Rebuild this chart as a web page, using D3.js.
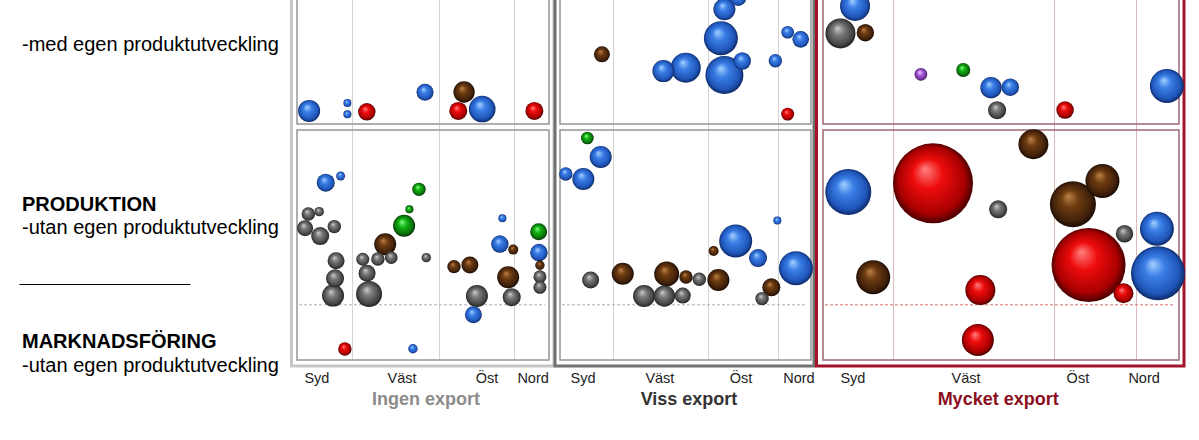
<!DOCTYPE html>
<html><head><meta charset="utf-8">
<script src="https://cdn.jsdelivr.net/npm/d3@7"></script>
<style>body{margin:0;background:#fff;overflow:hidden} svg{display:block}</style>
</head><body>
<script>
// ---------- DATA ----------
const regions = ["Syd", "Väst", "Öst", "Nord"];
const panelTitles = ["Ingen export", "Viss export", "Mycket export"];
// region boundaries (x-domain 0..100 per panel)
const gridBreaks = [[21.8, 56.3, 86.1], [21.1, 59.0, 86.9], [19.7, 64.9, 87.9]];
// tick label positions (x-domain 0..100 per panel)
const tickPos = [[7.9, 41.7, 75.4, 93.7], [9.2, 39.8, 72.1, 95.2], [8.4, 40.2, 71.6, 90.2]];
// title positions (x-domain 0..100 per panel)
const titlePos = [51.2, 51.4, 49.2];
// y-value separating produktion (above) from marknadsföring (below), bottom row
const marketingLine = 24;

// bubbles: [x, y, size, type]
const ingenMed = [
  [4.8, 5.7, 121, "blue"], [20.0, 9.1, 16, "blue"], [20.0, 4.2, 16, "blue"],
  [27.7, 5.3, 76, "red"], [50.8, 13.8, 72, "blue"], [66.3, 13.9, 114, "brown"],
  [73.5, 6.5, 177, "blue"], [64.0, 5.7, 81, "red"], [94.2, 5.7, 81, "red"]
];
const ingenUtan = [
  [11.4, 77.1, 81, "blue"], [17.3, 80.0, 20, "blue"], [4.5, 63.5, 45, "gray"],
  [8.8, 64.5, 22, "gray"], [3.2, 57.3, 64, "gray"], [9.2, 53.9, 81, "gray"],
  [14.8, 58.0, 45, "gray"], [15.5, 43.2, 72, "gray"], [15.1, 35.5, 81, "gray"],
  [14.3, 28.0, 121, "gray"], [26.1, 43.8, 42, "gray"], [27.8, 37.7, 72, "gray"],
  [28.6, 28.7, 169, "gray"], [32.1, 43.9, 45, "gray"], [37.4, 44.5, 40, "gray"],
  [35.0, 50.3, 121, "brown"], [42.5, 58.4, 121, "green"], [44.6, 65.5, 16, "green"],
  [48.4, 74.2, 45, "green"], [51.3, 44.5, 22, "gray"], [62.3, 40.6, 45, "brown"],
  [68.6, 41.3, 72, "brown"], [71.4, 27.8, 121, "gray"], [70.0, 19.7, 72, "blue"],
  [81.5, 61.6, 16, "blue"], [80.5, 50.4, 76, "blue"], [85.8, 48.0, 25, "brown"],
  [83.8, 36.0, 121, "brown"], [85.2, 27.3, 81, "gray"], [95.9, 55.8, 72, "green"],
  [96.0, 46.7, 76, "blue"], [96.4, 41.2, 22, "brown"], [96.4, 36.2, 42, "gray"],
  [96.4, 31.6, 42, "gray"], [19.0, 4.8, 45, "red"], [46.0, 4.9, 22, "blue"]
];
const vissMed = [
  [16.7, 30.3, 64, "brown"], [41.2, 23.0, 121, "blue"], [50.1, 24.5, 225, "blue"],
  [65.5, 21.3, 361, "blue"], [72.6, 27.4, 76, "blue"], [64.1, 37.3, 289, "blue"],
  [65.5, 49.9, 121, "blue"], [71.0, 54.8, 64, "blue"], [85.8, 27.5, 45, "blue"],
  [90.7, 39.9, 40, "blue"], [95.9, 36.8, 69, "blue"], [90.7, 4.3, 42, "red"]
];
const vissUtan = [
  [10.9, 96.5, 40, "green"], [16.2, 88.3, 121, "blue"], [2.3, 80.9, 45, "blue"],
  [9.3, 78.7, 121, "blue"], [12.2, 34.8, 72, "gray"], [25.0, 37.5, 121, "brown"],
  [33.5, 27.8, 121, "gray"], [41.6, 27.8, 114, "gray"], [42.5, 37.4, 156, "brown"],
  [48.9, 28.0, 64, "gray"], [50.2, 36.1, 45, "brown"], [55.5, 35.1, 45, "gray"],
  [63.1, 34.8, 121, "brown"], [61.2, 47.4, 25, "brown"], [70.0, 51.7, 272, "blue"],
  [78.9, 44.3, 81, "blue"], [86.6, 60.6, 16, "blue"], [84.2, 31.6, 81, "brown"],
  [80.5, 26.7, 45, "gray"], [94.0, 39.9, 289, "blue"]
];
const mycketMed = [
  [9.0, 51.3, 225, "blue"], [4.9, 39.4, 225, "gray"], [11.9, 39.7, 76, "brown"],
  [27.5, 21.6, 40, "purple"], [39.4, 23.5, 49, "green"], [47.2, 15.8, 114, "blue"],
  [52.6, 16.0, 76, "blue"], [48.9, 6.0, 81, "gray"], [68.0, 6.1, 76, "red"],
  [96.6, 16.5, 289, "blue"]
];
const mycketUtan = [
  [59.1, 93.8, 225, "brown"], [7.1, 73.0, 529, "blue"], [30.9, 76.8, 1600, "red"],
  [49.2, 65.5, 81, "gray"], [70.2, 67.7, 529, "brown"], [78.5, 77.8, 289, "brown"],
  [74.6, 41.3, 1369, "red"], [84.7, 54.9, 76, "gray"], [93.8, 57.1, 289, "blue"],
  [84.4, 29.0, 100, "red"], [94.1, 37.7, 729, "blue"], [14.1, 36.0, 289, "brown"],
  [44.2, 30.4, 225, "red"], [43.5, 8.7, 256, "red"]
];
const panelData = [[ingenMed, ingenUtan], [vissMed, vissUtan], [mycketMed, mycketUtan]];

// ---------- STYLE / LAYOUT ----------
const W = 1199, H = 440;
const innerX = [[297, 549], [560, 811], [823, 1179]];
const outer = [
  {x0: 291.5, x1: 554, color: "#c6c6c6"},
  {x0: 555, x1: 814, color: "#707070"},
  {x0: 816.5, x1: 1184, color: "#a3132c"}
];
const boxStroke = ["#9c9c9c", "#9c9c9c", "#a2707c"];
const gridStroke = ["#d4d4d4", "#d4d4d4", "#dcb8b8"];
const dashStroke = ["#b0b0b0", "#b0b0b0", "#d87070"];
const titleColor = ["#8c8c8c", "#333333", "#8a0f1c"];
const sphere = {
  blue:   ["#a4d0ff", "#3a7ee6", "#1f55b8", "#0a2258"],
  red:    ["#ff8080", "#ee0c0c", "#a80000", "#380000"],
  brown:  ["#bb8048", "#6e3c10", "#40200a", "#120801"],
  gray:   ["#cccccc", "#7a7a7a", "#454545", "#1a1a1a"],
  green:  ["#88ff88", "#14b414", "#087008", "#022402"],
  purple: ["#f6d0ff", "#b466e0", "#7434a4", "#34104e"]
};

const svg = d3.select("body").append("svg").attr("width", W).attr("height", H);
const defs = svg.append("defs");
Object.entries(sphere).forEach(([k, c]) => {
  const g = defs.append("radialGradient").attr("id", "sp-" + k)
    .attr("cx", "50%").attr("cy", "50%").attr("r", "52%")
    .attr("fx", "40%").attr("fy", "32%");
  [[0, c[0]], [0.36, c[1]], [0.8, c[2]], [1, c[3]]].forEach(([o, col]) =>
    g.append("stop").attr("offset", o).attr("stop-color", col));
});

const rowY = [
  d3.scaleLinear().domain([0, 100]).range([124, -106]),
  d3.scaleLinear().domain([0, 100]).range([360, 130])
];
const rScale = d3.scaleSqrt().domain([0, 1600]).range([0, 40]);

// left labels
const lab = svg.append("g").attr("font-family", "'Liberation Sans', Arial, sans-serif")
  .attr("font-size", 20).attr("fill", "#000");
lab.append("text").attr("x", 22).attr("y", 51).text("-med egen produktutveckling");
lab.append("text").attr("x", 22).attr("y", 211).attr("font-weight", "bold").text("PRODUKTION");
lab.append("text").attr("x", 22).attr("y", 234).text("-utan egen produktutveckling");
lab.append("line").attr("x1", 19.5).attr("x2", 190.5).attr("y1", 284.5).attr("y2", 284.5)
  .attr("stroke", "#000").attr("stroke-width", 1);
lab.append("text").attr("x", 22).attr("y", 348).attr("font-weight", "bold").text("MARKNADSFÖRING");
lab.append("text").attr("x", 22).attr("y", 372).text("-utan egen produktutveckling");

panelData.forEach((rows, p) => {
  const g = svg.append("g");
  const x = d3.scaleLinear().domain([0, 100]).range(innerX[p]);
  const [xl, xr] = innerX[p];
  // outer frame
  g.append("rect").attr("x", outer[p].x0).attr("y", -200)
    .attr("width", outer[p].x1 - outer[p].x0).attr("height", 366 - (-200))
    .attr("fill", "none").attr("stroke", outer[p].color).attr("stroke-width", 3);
  // gridlines
  g.selectAll("line.grid").data(gridBreaks[p]).join("line").attr("class", "grid")
    .attr("x1", d => Math.round(x(d)) + 0.5).attr("x2", d => Math.round(x(d)) + 0.5)
    .attr("y1", -200).attr("y2", 360)
    .attr("stroke", gridStroke[p]).attr("stroke-width", 1);
  // inner boxes
  g.append("rect").attr("x", xl).attr("y", -200).attr("width", xr - xl).attr("height", 124 - (-200))
    .attr("fill", "none").attr("stroke", boxStroke[p]).attr("stroke-width", 1.6);
  g.append("rect").attr("x", xl).attr("y", 130).attr("width", xr - xl).attr("height", 230)
    .attr("fill", "none").attr("stroke", boxStroke[p]).attr("stroke-width", 1.6);
  // marketing dashed line
  g.append("line").attr("x1", xl + 2).attr("x2", xr - 4)
    .attr("y1", rowY[1](marketingLine)).attr("y2", rowY[1](marketingLine))
    .attr("stroke", dashStroke[p]).attr("stroke-width", 1).attr("stroke-dasharray", "3,2");
  // bubbles
  rows.forEach((data, r) => {
    const sorted = data.slice().sort((a, b) => b[2] - a[2]);
    g.selectAll("circle.r" + r).data(sorted).join("circle").attr("class", "r" + r)
      .attr("cx", d => x(d[0])).attr("cy", d => rowY[r](d[1]))
      .attr("r", d => rScale(d[2]))
      .attr("fill", d => `url(#sp-${d[3]})`);
  });
  // tick labels
  g.selectAll("text.tick").data(regions).join("text").attr("class", "tick")
    .attr("x", (d, i) => x(tickPos[p][i])).attr("y", 383)
    .attr("text-anchor", "middle").attr("font-family", "'Liberation Sans', Arial, sans-serif")
    .attr("font-size", 14.5).attr("fill", "#222").text(d => d);
  // title
  g.append("text").attr("x", x(titlePos[p])).attr("y", 405).attr("text-anchor", "middle")
    .attr("font-family", "'Liberation Sans', Arial, sans-serif").attr("font-weight", "bold")
    .attr("font-size", 18).attr("fill", titleColor[p]).text(panelTitles[p]);
});
</script>
</body></html>
